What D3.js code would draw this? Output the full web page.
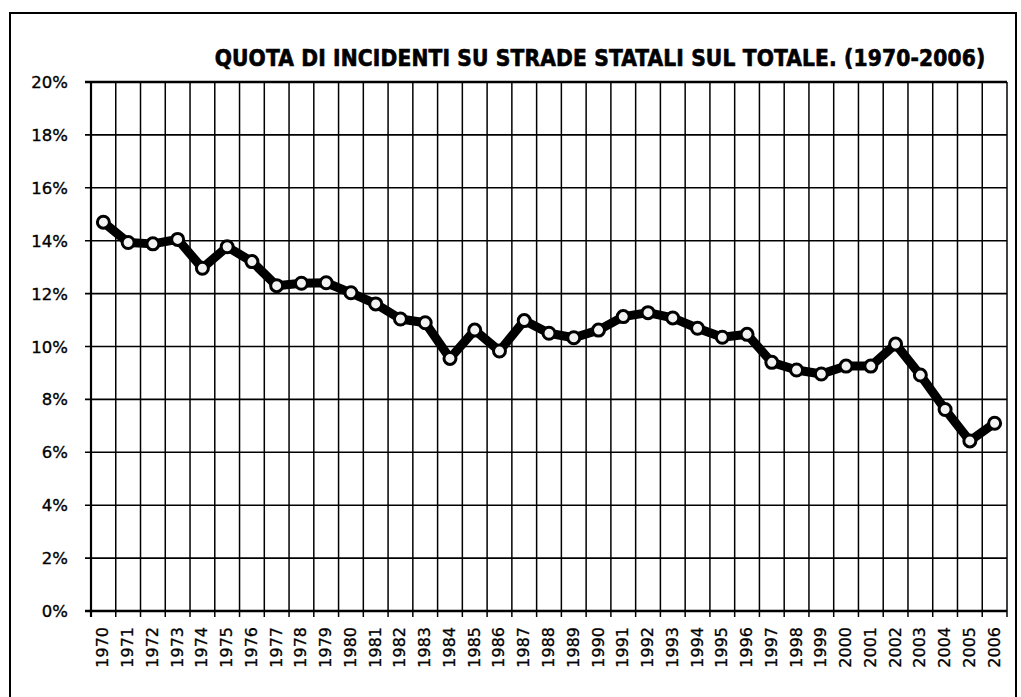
<!DOCTYPE html>
<html><head><meta charset="utf-8">
<script src="https://cdn.jsdelivr.net/npm/d3@7"></script>
<style>body{margin:0;background:#fff;} svg{display:block;}</style>
</head><body>
<svg id="c" width="1021" height="697"></svg>
<script>
const title = "QUOTA DI INCIDENTI SU STRADE STATALI SUL TOTALE. (1970-2006)";
const years = ["1970","1971","1972","1973","1974","1975","1976","1977","1978","1979","1980","1981","1982","1983","1984","1985","1986","1987","1988","1989","1990","1991","1992","1993","1994","1995","1996","1997","1998","1999","2000","2001","2002","2003","2004","2005","2006"];
const shares = [14.7,13.93,13.88,14.05,12.96,13.77,13.21,12.3,12.39,12.41,12.03,11.61,11.04,10.9,9.55,10.62,9.83,10.98,10.5,10.33,10.62,11.13,11.28,11.08,10.69,10.35,10.46,9.4,9.11,8.96,9.26,9.26,10.09,8.92,7.62,6.43,7.1];
const yTicks = [0,2,4,6,8,10,12,14,16,18,20];

const svg = d3.select("#c");
const L = 91, R = 1007, T = 82, B = 611;
const x = d3.scaleBand().domain(years).range([L, R]).padding(0);
const y = d3.scaleLinear().domain([0, 20]).range([B, T]);

// outer frame
svg.append("rect").attr("x", 10).attr("y", 13).attr("width", 1006).attr("height", 700)
  .attr("fill", "none").attr("stroke", "#000").attr("stroke-width", 2);

// title
svg.append("text").attr("x", 600).attr("y", 66).attr("text-anchor", "middle")
  .attr("font-family", "'DejaVu Sans Condensed', 'DejaVu Sans'").attr("font-weight", "bold").attr("font-size", 22.5)
  .attr("font-stretch", "condensed").attr("letter-spacing", 0.15)
  .attr("stroke", "#000").attr("stroke-width", 0.6)
  .text(title);

// horizontal grid
svg.append("g").selectAll("line").data(yTicks).join("line")
  .attr("x1", L - 6).attr("x2", R).attr("y1", d => y(d)).attr("y2", d => y(d))
  .attr("stroke", "#000").attr("stroke-width", d => (d === 0 || d === 20) ? 2.5 : 1.6);

// vertical grid at band boundaries
const bounds = years.map(d => x(d)).concat([R]);
svg.append("g").selectAll("line").data(bounds).join("line")
  .attr("x1", d => d).attr("x2", d => d).attr("y1", T).attr("y2", B + 6)
  .attr("stroke", "#000").attr("stroke-width", (d, i) => (i === 0) ? 2.2 : 1.5);

// y labels
svg.append("g").selectAll("text").data(yTicks).join("text")
  .attr("x", 68).attr("y", d => y(d) + 6).attr("text-anchor", "end")
  .attr("font-family", "DejaVu Sans").attr("font-size", 16.5).attr("fill", "#000")
  .attr("stroke", "#000").attr("stroke-width", 0.35)
  .text(d => d + "%");

// x labels rotated
svg.append("g").selectAll("text").data(years).join("text")
  .attr("transform", d => `translate(${x(d) + x.bandwidth() / 2 + 5},627) rotate(-90)`)
  .attr("text-anchor", "end")
  .attr("font-family", "DejaVu Sans").attr("font-size", 16).attr("fill", "#000")
  .attr("stroke", "#000").attr("stroke-width", 0.3)
  .text(d => d);

// line
const pts = years.map((d, i) => [x(d) + x.bandwidth() / 2, y(shares[i])]);
svg.append("path").attr("d", d3.line()(pts)).attr("fill", "none")
  .attr("stroke", "#000").attr("stroke-width", 9).attr("stroke-linejoin", "round");

svg.append("g").selectAll("circle").data(pts).join("circle")
  .attr("cx", d => d[0]).attr("cy", d => d[1]).attr("r", 6)
  .attr("fill", "#f2f2f2").attr("stroke", "#000").attr("stroke-width", 3);
</script>
</body></html>
